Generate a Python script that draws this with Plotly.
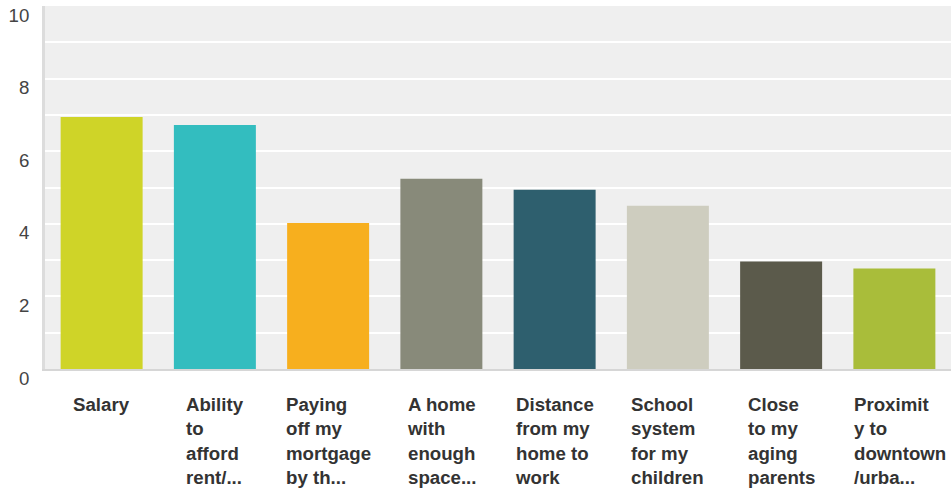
import plotly.graph_objects as go

categories = [
    "Salary",
    "Ability<br>to<br>afford<br>rent/...",
    "Paying<br>off my<br>mortgage<br>by th...",
    "A home<br>with<br>enough<br>space...",
    "Distance<br>from my<br>home to<br>work",
    "School<br>system<br>for my<br>children",
    "Close<br>to my<br>aging<br>parents",
    "Proximit<br>y to<br>downtown<br>/urba...",
]
values = [6.94, 6.72, 4.02, 5.24, 4.94, 4.50, 2.96, 2.77]
colors = ["#cfd428", "#33bdbf", "#f7af1e", "#888a7a", "#2e5f6e", "#cecdbf", "#5b5a4b", "#a9bd3a"]
y_ticks = [0, 2, 4, 6, 8, 10]

FONT = "Arial, Liberation Sans, sans-serif"

fig = go.Figure(go.Bar(
    x=list(range(len(categories))),
    y=values,
    marker=dict(color=colors, line=dict(width=0)),
    hoverinfo="skip",
))

for i, label in enumerate(categories):
    fig.add_annotation(
        x=i, xref="x", y=0, yref="paper",
        yanchor="top", xanchor="center", align="left",
        yshift=-23,
        xshift=6 if i == len(categories) - 1 else 0,
        text=label, showarrow=False,
        font=dict(family=FONT, size=18.67, color="#333333", weight="bold"),
    )

fig.update_layout(
    width=951, height=491,
    margin=dict(l=45, r=0, t=6, b=122),
    paper_bgcolor="white",
    plot_bgcolor="#efefef",
    bargap=0.276,
    showlegend=False,
    font=dict(family=FONT, size=18.67, color="#444444"),
)
fig.update_xaxes(
    range=[-0.5, len(categories) - 0.5],
    showticklabels=False, showgrid=False, zeroline=False,
    showline=True, linecolor="#d6d6d6", linewidth=2,
)
fig.update_yaxes(
    range=[0, 10], tickvals=y_ticks, ticktext=[str(v) for v in y_ticks],
    showgrid=True, gridcolor="white", gridwidth=2,
    minor=dict(dtick=1, showgrid=True, gridcolor="white", gridwidth=2),
    zeroline=False,
    showline=True, linecolor="#dcdcdc", linewidth=3,
    ticks="", ticklabelstandoff=9, ticklabelshift=9,
    tickfont=dict(family=FONT, size=18.67, color="#444444"),
)

fig.write_html(
    "out.html",
    config={"displayModeBar": False},
    post_script="document.body.style.margin='0';document.body.style.overflow='hidden';",
)
